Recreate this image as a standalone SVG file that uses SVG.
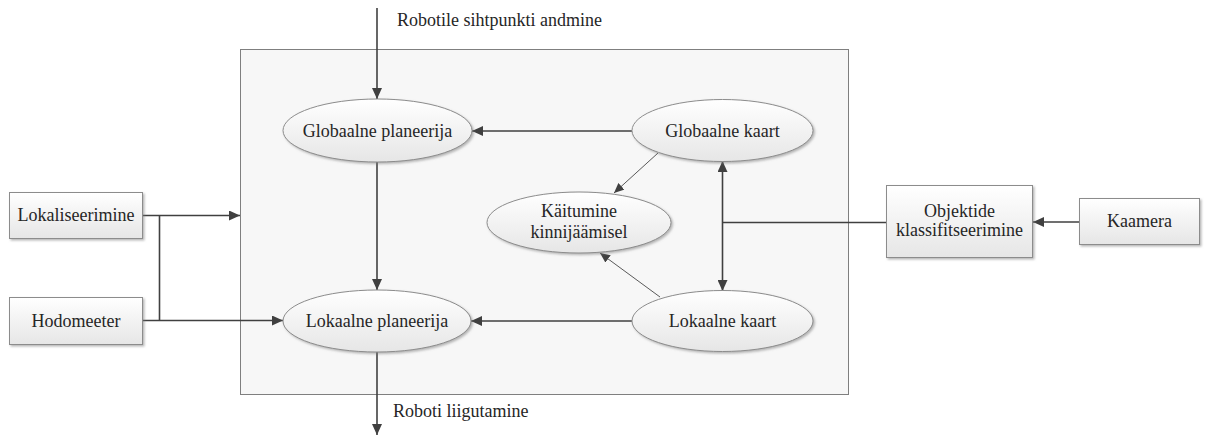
<svg xmlns="http://www.w3.org/2000/svg" width="1212" height="436" viewBox="0 0 1212 436">
  <style>
    text { font-family: 'Liberation Serif', 'Tinos', 'DejaVu Serif', serif; font-size: 18px; fill: #262626; }
    .mid { text-anchor: middle; }
    .node { fill: url(#nodeFill); stroke: #8c8c8c; stroke-width: 1; filter: url(#shade); }
    .frame { fill: #f7f7f7; stroke: #7f7f7f; stroke-width: 1; }
    .wire { fill: none; stroke: #404040; stroke-width: 1.6; }
    .thin { fill: none; stroke: #595959; stroke-width: 1; }
  </style>
  <defs>
    <linearGradient id="nodeFill" x1="0" y1="0" x2="0" y2="1">
      <stop offset="0" stop-color="#ffffff"/>
      <stop offset="1" stop-color="#e6e6e6"/>
    </linearGradient>
    <filter id="shade" x="-10%" y="-10%" width="125%" height="135%">
      <feDropShadow dx="1.5" dy="1.5" stdDeviation="1" flood-color="#7a7a7a" flood-opacity="0.55"/>
    </filter>
    <marker id="arr" markerUnits="userSpaceOnUse" markerWidth="12" markerHeight="10" refX="11" refY="5" orient="auto-start-reverse">
      <path d="M0,0 L11,5 L0,10 Z" fill="#404040"/>
    </marker>
    <marker id="arrThin" markerUnits="userSpaceOnUse" markerWidth="11" markerHeight="9" refX="10" refY="4.5" orient="auto">
      <path d="M0,0 L10,4.5 L0,9 Z" fill="#404040"/>
    </marker>
  </defs>

  <!-- navigation system frame -->
  <rect class="frame" x="240.5" y="49.5" width="608" height="345"/>

  <g id="connectors">
    <!-- goal input -->
    <line class="wire" x1="377" y1="8" x2="377" y2="99" marker-end="url(#arr)"/>
    <!-- global map to global planner -->
    <line class="wire" x1="632" y1="131" x2="472" y2="131" marker-end="url(#arr)"/>
    <!-- global planner to local planner -->
    <line class="wire" x1="377" y1="162" x2="377" y2="290" marker-end="url(#arr)"/>
    <!-- local map to local planner -->
    <line class="wire" x1="632" y1="321" x2="471" y2="321" marker-end="url(#arr)"/>
    <!-- maps to recovery behaviour -->
    <line class="thin" x1="658" y1="153" x2="614" y2="193" marker-end="url(#arrThin)"/>
    <line class="thin" x1="660" y1="297" x2="600" y2="253" marker-end="url(#arrThin)"/>
    <!-- global map / local map link -->
    <line class="wire" x1="722.5" y1="161" x2="722.5" y2="291" marker-start="url(#arr)" marker-end="url(#arr)"/>
    <!-- classification into maps -->
    <line class="wire" x1="886" y1="222.5" x2="722.5" y2="222.5"/>
    <!-- camera to classification -->
    <line class="wire" x1="1079" y1="222" x2="1033" y2="222" marker-end="url(#arr)"/>
    <!-- localisation and odometry -->
    <line class="wire" x1="143" y1="215.5" x2="240" y2="215.5" marker-end="url(#arr)"/>
    <line class="wire" x1="159.5" y1="215.5" x2="159.5" y2="320.5"/>
    <line class="wire" x1="143" y1="320.5" x2="283" y2="320.5" marker-end="url(#arr)"/>
    <!-- motion output -->
    <line class="wire" x1="377" y1="352" x2="377" y2="435" marker-end="url(#arr)"/>
  </g>

  <text x="397" y="26">Robotile sihtpunkti andmine</text>
  <text x="393" y="417">Roboti liigutamine</text>

  <g id="globaalne-planeerija">
    <ellipse class="node" cx="377.5" cy="130.5" rx="94.5" ry="31.5"/>
    <text class="mid" x="377.5" y="136.5">Globaalne planeerija</text>
  </g>
  <g id="lokaalne-planeerija">
    <ellipse class="node" cx="377" cy="321" rx="94" ry="31"/>
    <text class="mid" x="377" y="327">Lokaalne planeerija</text>
  </g>
  <g id="globaalne-kaart">
    <ellipse class="node" cx="722.5" cy="130.5" rx="90.5" ry="31"/>
    <text class="mid" x="722.5" y="136.5">Globaalne kaart</text>
  </g>
  <g id="lokaalne-kaart">
    <ellipse class="node" cx="722.5" cy="321" rx="90.5" ry="30.5"/>
    <text class="mid" x="722.5" y="327">Lokaalne kaart</text>
  </g>
  <g id="kaitumine-kinnijaamisel">
    <ellipse class="node" cx="579" cy="222.5" rx="92" ry="30.5"/>
    <text class="mid" x="579" y="216.5">Käitumine</text>
    <text class="mid" x="579" y="237.5">kinnijäämisel</text>
  </g>
  <g id="lokaliseerimine">
    <rect class="node" x="9.5" y="192.5" width="133" height="46"/>
    <text class="mid" x="76" y="221">Lokaliseerimine</text>
  </g>
  <g id="hodomeeter">
    <rect class="node" x="9.5" y="297.5" width="133" height="47"/>
    <text class="mid" x="76" y="326.5">Hodomeeter</text>
  </g>
  <g id="objektide-klassifitseerimine">
    <rect class="node" x="886.5" y="185.5" width="146" height="72"/>
    <text class="mid" x="959.5" y="217">Objektide</text>
    <text class="mid" x="959.5" y="236">klassifitseerimine</text>
  </g>
  <g id="kaamera">
    <rect class="node" x="1079.5" y="198.5" width="120" height="46"/>
    <text class="mid" x="1139.5" y="227">Kaamera</text>
  </g>
</svg>
